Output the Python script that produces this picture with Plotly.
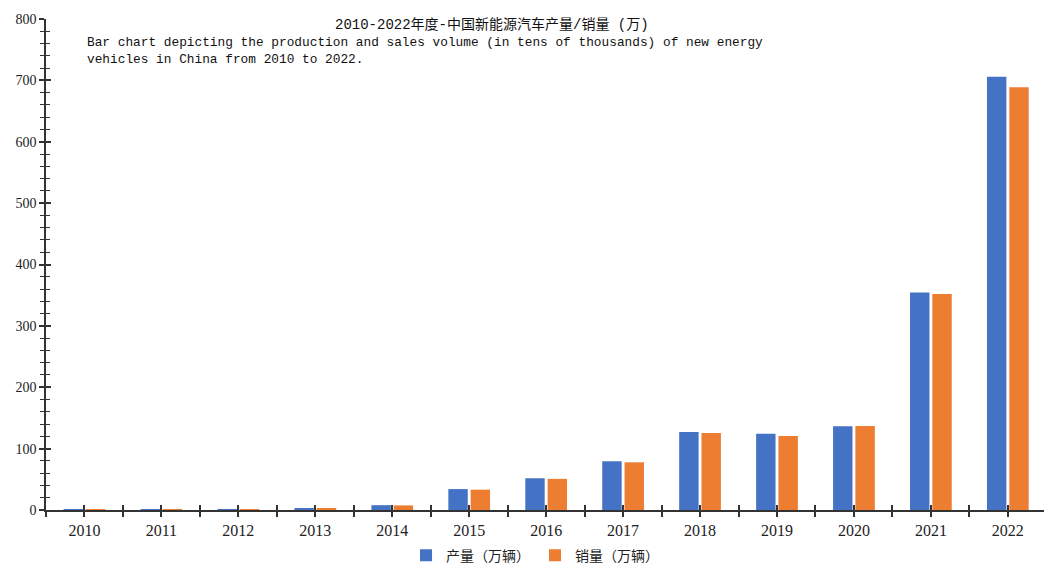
import plotly.graph_objects as go

years = ["2010", "2011", "2012", "2013", "2014", "2015", "2016", "2017", "2018", "2019", "2020", "2021", "2022"]
production = [0.72, 0.84, 1.26, 1.75, 7.85, 34.05, 51.7, 79.4, 127.0, 124.2, 136.6, 354.5, 705.8]
sales = [0.82, 0.82, 1.28, 1.76, 7.48, 33.11, 50.7, 77.7, 125.6, 120.6, 136.7, 352.1, 688.7]
series_names = ["产量（万辆）", "销量（万辆）"]
colors = ["#4472C4", "#ED7D31"]
title_text = "2010-2022年度-中国新能源汽车产量/销量 (万)"
subtitle_text = ("Bar chart depicting the production and sales volume (in tens of thousands) of new energy<br>"
                 "vehicles in China from 2010 to 2022.")

xpos = list(range(len(years)))
xrange_ = [-0.5, 12.47]
yrange_ = [0, 800]
boundaries = [i - 0.5 for i in range(len(years) + 1)]

fig = go.Figure()
fig.add_trace(go.Bar(x=xpos, y=production, name=series_names[0], marker=dict(color=colors[0], line=dict(width=0))))
fig.add_trace(go.Bar(x=xpos, y=sales, name=series_names[1], marker=dict(color=colors[1], line=dict(width=0))))

serif = "Liberation Serif, Times New Roman, serif"
axcol = "#333"
fig.update_layout(
    width=1044, height=568,
    margin=dict(l=46, r=0, t=19, b=58, autoexpand=False),
    plot_bgcolor="white", paper_bgcolor="white",
    barmode="group", bargap=0.42, bargroupgap=0.13,
    showlegend=True,
    legend=dict(orientation="h", x=0.49, xanchor="center", y=-0.093, yanchor="middle",
                bgcolor="rgba(0,0,0,0)",
                font=dict(family="Noto Sans CJK SC", size=14, color="#222"),
                itemwidth=30, tracegroupgap=0, traceorder="normal"),
    xaxis=dict(range=xrange_, tickvals=xpos, ticktext=years,
               showgrid=False, zeroline=False,
               showline=True, linecolor=axcol, linewidth=1.5,
               ticks="outside", ticklen=5, tickcolor=axcol, tickwidth=1.5,
               minor=dict(tickvals=boundaries, ticks="outside",
                          ticklen=5, tickcolor=axcol, tickwidth=1.5),
               tickfont=dict(family=serif, size=16, color="#222")),
    yaxis=dict(range=yrange_, dtick=100, showgrid=False, zeroline=False,
               showline=True, linecolor=axcol, linewidth=1.5,
               ticks="outside", ticklen=5, tickcolor=axcol, tickwidth=1.5,
               minor=dict(dtick=20, ticks="outside", ticklen=4, tickcolor=axcol, tickwidth=1.2),
               tickfont=dict(family=serif, size=14, color="#222")),
    # overlay axes drawing the inner half of the crossing ticks
    xaxis2=dict(overlaying="x", side="bottom", range=xrange_, tickvals=xpos, showticklabels=False,
                showgrid=False, zeroline=False, showline=False,
                ticks="inside", ticklen=5, tickcolor=axcol, tickwidth=1.5,
                minor=dict(tickvals=boundaries, ticks="inside", ticklen=5, tickcolor=axcol, tickwidth=1.5)),
    yaxis2=dict(overlaying="y", side="left", range=yrange_, dtick=100, showticklabels=False,
                showgrid=False, zeroline=False, showline=False,
                ticks="inside", ticklen=5, tickcolor=axcol, tickwidth=1.5,
                minor=dict(dtick=20, ticks="inside", ticklen=4, tickcolor=axcol, tickwidth=1.2)),
    annotations=[
        dict(text=title_text, xref="paper", yref="paper", x=0.447, y=0.988,
             xanchor="center", yanchor="middle", showarrow=False,
             font=dict(family="Liberation Mono, Noto Sans CJK SC", size=14, color="#111")),
        dict(text=subtitle_text, xref="paper", yref="paper", x=0.039, y=0.935,
             xanchor="left", yanchor="middle", align="left", showarrow=False,
             font=dict(family="Liberation Mono, monospace", size=12.8, color="#111")),
    ],
)

# invisible helper trace so the overlay axes are drawn
fig.add_trace(go.Scatter(x=[0], y=[0], xaxis="x2", yaxis="y2", mode="markers",
                         marker=dict(opacity=0), showlegend=False, hoverinfo="skip"))

fig.write_html("out.html")
